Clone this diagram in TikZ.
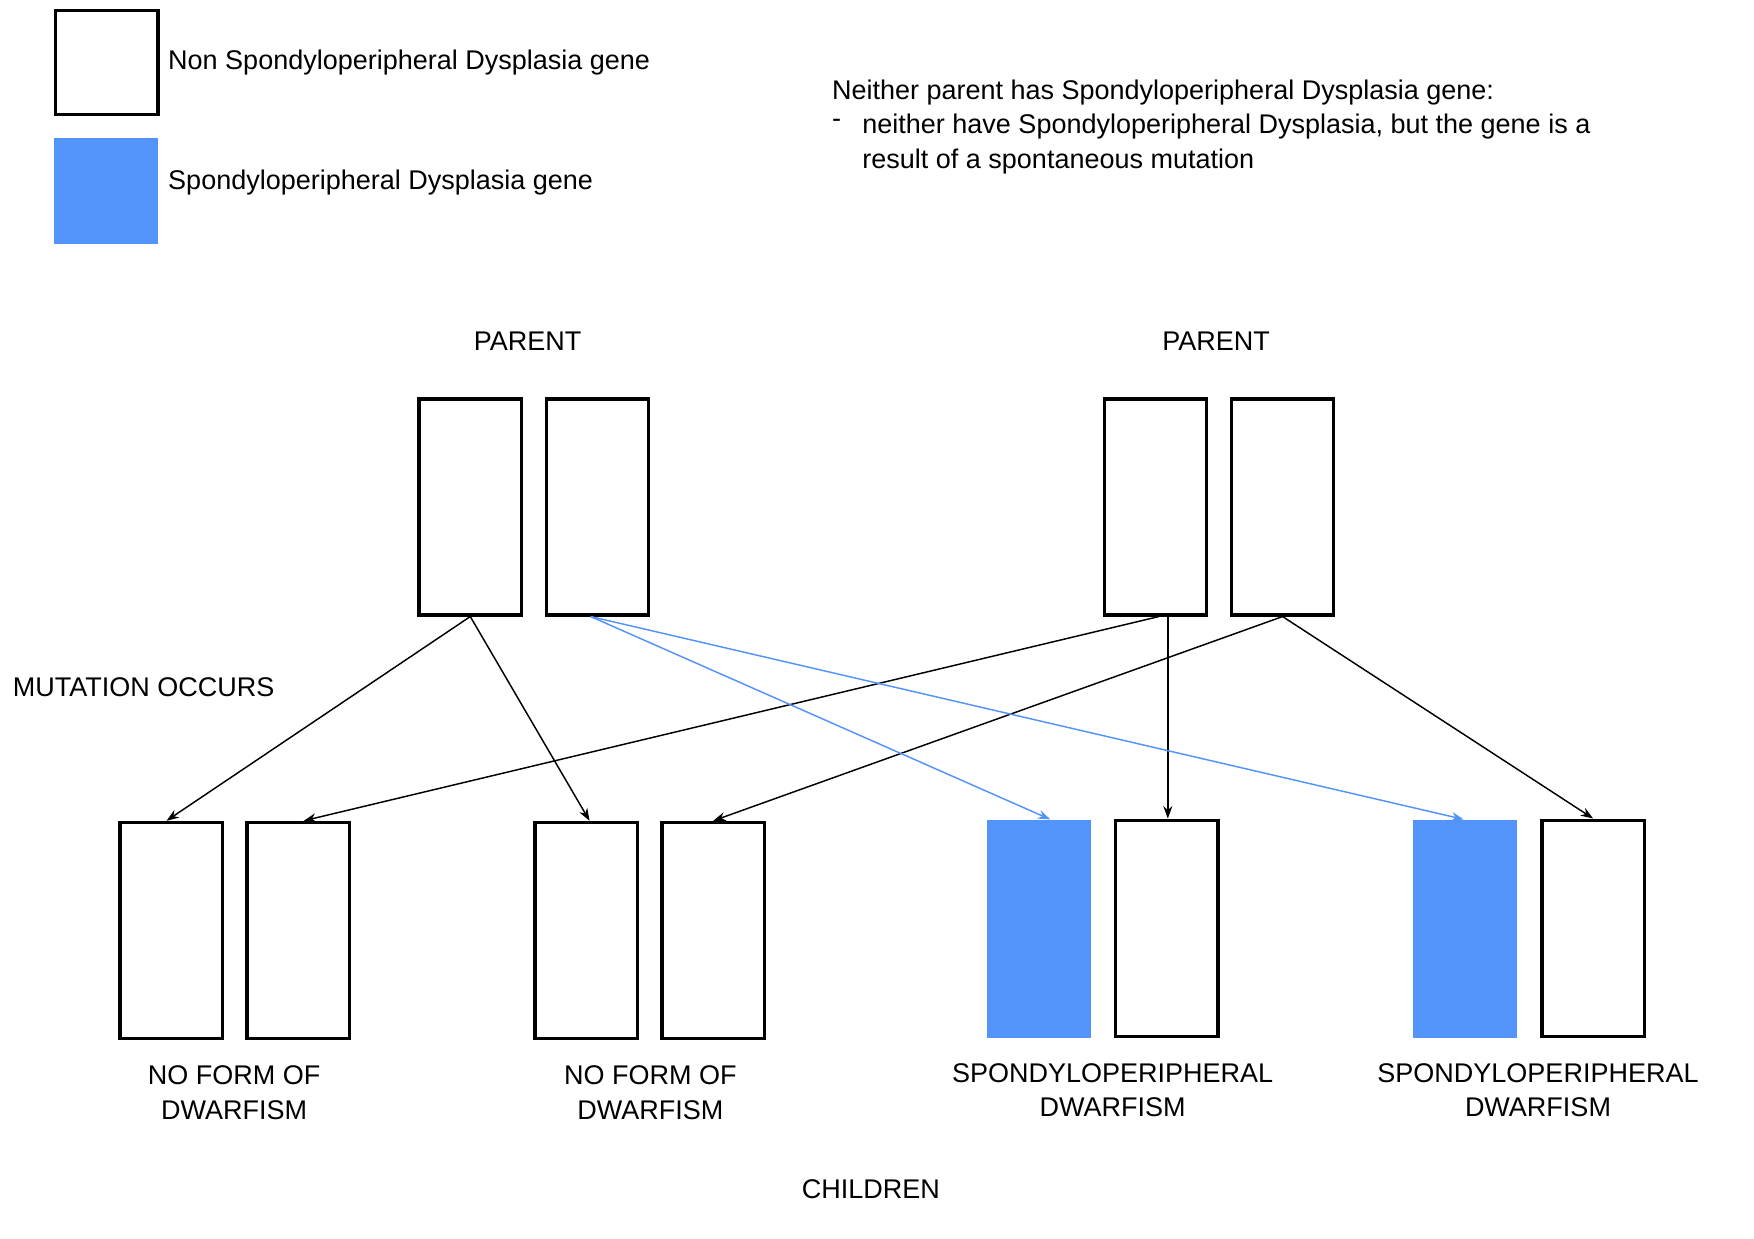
\documentclass[tikz,border=0pt]{standalone}
\usepackage{fontspec}
\setmainfont{Liberation Sans}
\usetikzlibrary{arrows.meta}
\definecolor{geneblue}{RGB}{83,148,250}
\tikzset{
  gene/.style={draw=black, line width=3pt, minimum width=91pt, minimum height=192pt, inner sep=0pt},
  mut/.style={fill=geneblue, draw=none, minimum width=93pt, minimum height=194pt, inner sep=0pt},
  lbl/.style={font=\fontsize{24}{31}\selectfont, align=center},
  link/.style={line width=1.3pt, -{Stealth[length=11pt,width=8pt]}},
}
\begin{document}
\begin{tikzpicture}[x=1pt, y=-1pt]
      \useasboundingbox (0,0) rectangle (1559,1101);

      % key
      \node[gene, minimum height=92pt] (keyA) at (95,55.5) {};
      \node[mut, minimum width=92pt, minimum height=94pt] (keyB) at (94,170) {};
      \node[lbl, anchor=west] (keyAtxt) at (146,56) {Non Spondyloperipheral Dysplasia gene};
      \node[lbl, anchor=west] (keyBtxt) at (146,162) {Spondyloperipheral Dysplasia gene};

      \node[lbl, anchor=west] (note) at (736,82) {Neither parent has Spondyloperipheral Dysplasia gene:};
      \node[lbl, anchor=west] (dash) at (736,110) {-};
      \node[lbl, anchor=north west, align=left] (noteb) at (763,98) {neither have Spondyloperipheral Dysplasia, but the gene is a\\result of a spontaneous mutation};

      % parents
      \node[lbl] (parA) at (469,303) {PARENT};
      \node[lbl] (parB) at (1081,303) {PARENT};
      \node[gene] (pa1) at (418,450.5) {};
      \node[gene] (pa2) at (531,450.5) {};
      \node[gene] (pb1) at (1027,450.5) {};
      \node[gene] (pb2) at (1140,450.5) {};

      \node[lbl, anchor=west] (mutation) at (8,611) {MUTATION OCCURS};

      % children
      \node[gene] (c11) at (152,827) {};
      \node[gene] (c12) at (265,827) {};
      \node[gene] (c21) at (521,827) {};
      \node[gene] (c22) at (634,827) {};
      \node[mut] (c31) at (923.5,825.5) {};
      \node[gene] (c32) at (1037,825) {};
      \node[mut] (c41) at (1302,825.5) {};
      \node[gene] (c42) at (1416,825) {};

      \node[lbl] (t1) at (208,971) {NO FORM OF\\DWARFISM};
      \node[lbl] (t2) at (578,971) {NO FORM OF\\DWARFISM};
      \node[lbl] (t3) at (989,969) {SPONDYLOPERIPHERAL\\DWARFISM};
      \node[lbl] (t4) at (1367,969) {SPONDYLOPERIPHERAL\\DWARFISM};
      \node[lbl] (kids) at (774,1057) {CHILDREN};

      % inheritance
      \draw[link] (pa1.south) -- ([xshift=-4pt]c11.north);
      \draw[link] (pa1.south) -- ([xshift=3pt]c21.north);
      \draw[link] ([xshift=3pt]pb1.south) -- ([xshift=5pt]c12.north);
      \draw[link] ([xshift=11pt]pb1.south) -- ([xshift=1pt]c32.north);
      \draw[link] (pb2.south) -- (c22.north);
      \draw[link] (pb2.south) -- (c42.north);
      \draw[link, geneblue] ([xshift=-6pt]pa2.south) -- ([xshift=10pt]c31.north);
      \draw[link, geneblue] ([xshift=-6pt]pa2.south) -- ([xshift=-1pt]c41.north);
    \end{tikzpicture}
\end{document}
